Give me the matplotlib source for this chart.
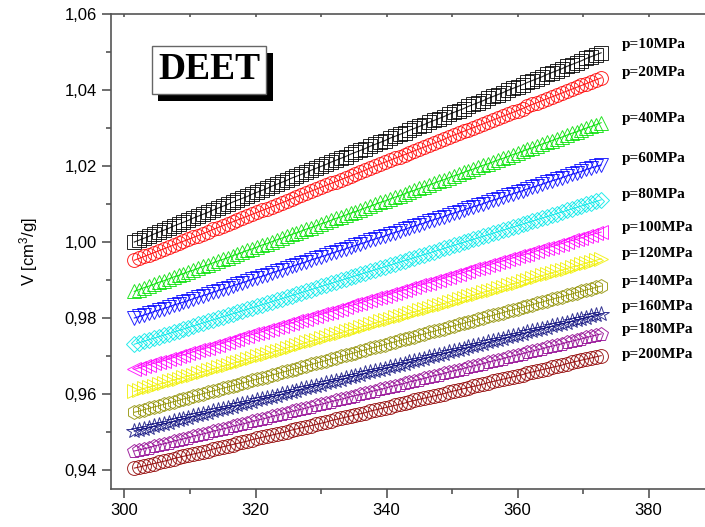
" DEET specific volume isobars "
import matplotlib
matplotlib.use("Agg")
import matplotlib.pyplot as plt
import matplotlib.patheffects as pe
from matplotlib.ticker import MultipleLocator, FuncFormatter

plt.rcParams.update({'font.family': 'Liberation Sans', 'font.size': 12,
                     'mathtext.fontset': 'custom',
                     'mathtext.rm': 'Liberation Sans',
                     'mathtext.it': 'Liberation Sans:italic'})

# temperature [K]
T = [301.5, 302.25, 303.0, 303.75, 304.5, 305.25, 306.0, 306.75,
     307.5, 308.25, 309.0, 309.75, 310.5, 311.25, 312.0, 312.75,
     313.5, 314.25, 315.0, 315.75, 316.5, 317.25, 318.0, 318.75,
     319.5, 320.25, 321.0, 321.75, 322.5, 323.25, 324.0, 324.75,
     325.5, 326.25, 327.0, 327.75, 328.5, 329.25, 330.0, 330.75,
     331.5, 332.25, 333.0, 333.75, 334.5, 335.25, 336.0, 336.75,
     337.5, 338.25, 339.0, 339.75, 340.5, 341.25, 342.0, 342.75,
     343.5, 344.25, 345.0, 345.75, 346.5, 347.25, 348.0, 348.75,
     349.5, 350.25, 351.0, 351.75, 352.5, 353.25, 354.0, 354.75,
     355.5, 356.25, 357.0, 357.75, 358.5, 359.25, 360.0, 360.75,
     361.5, 362.25, 363.0, 363.75, 364.5, 365.25, 366.0, 366.75,
     367.5, 368.25, 369.0, 369.75, 370.5, 371.25, 372.0, 372.75]

# specific volume V [cm3/g] at each pressure
V_10 = [1.0000, 1.0005, 1.0010, 1.0015, 1.0021, 1.0026, 1.0031, 1.0036,
        1.0042, 1.0047, 1.0052, 1.0057, 1.0063, 1.0068, 1.0073, 1.0078,
        1.0084, 1.0089, 1.0094, 1.0099, 1.0105, 1.0110, 1.0115, 1.0120,
        1.0126, 1.0131, 1.0136, 1.0141, 1.0147, 1.0152, 1.0157, 1.0162,
        1.0168, 1.0173, 1.0178, 1.0183, 1.0189, 1.0194, 1.0199, 1.0204,
        1.0210, 1.0215, 1.0220, 1.0225, 1.0231, 1.0236, 1.0241, 1.0246,
        1.0252, 1.0257, 1.0262, 1.0267, 1.0273, 1.0278, 1.0283, 1.0288,
        1.0294, 1.0299, 1.0304, 1.0309, 1.0315, 1.0320, 1.0325, 1.0330,
        1.0336, 1.0341, 1.0346, 1.0351, 1.0357, 1.0362, 1.0367, 1.0372,
        1.0378, 1.0383, 1.0388, 1.0393, 1.0399, 1.0404, 1.0409, 1.0414,
        1.0420, 1.0425, 1.0430, 1.0435, 1.0441, 1.0446, 1.0451, 1.0456,
        1.0462, 1.0467, 1.0472, 1.0477, 1.0483, 1.0488, 1.0493, 1.0498]
V_20 = [0.9952, 0.9957, 0.9962, 0.9967, 0.9972, 0.9977, 0.9982, 0.9987,
        0.9992, 0.9997, 1.0002, 1.0007, 1.0012, 1.0017, 1.0022, 1.0027,
        1.0033, 1.0038, 1.0043, 1.0048, 1.0053, 1.0058, 1.0063, 1.0068,
        1.0073, 1.0078, 1.0083, 1.0088, 1.0093, 1.0098, 1.0103, 1.0108,
        1.0114, 1.0119, 1.0124, 1.0129, 1.0134, 1.0139, 1.0144, 1.0149,
        1.0154, 1.0159, 1.0164, 1.0169, 1.0174, 1.0179, 1.0184, 1.0189,
        1.0195, 1.0200, 1.0205, 1.0210, 1.0215, 1.0220, 1.0225, 1.0230,
        1.0235, 1.0240, 1.0245, 1.0250, 1.0255, 1.0260, 1.0265, 1.0270,
        1.0276, 1.0281, 1.0286, 1.0291, 1.0296, 1.0301, 1.0306, 1.0311,
        1.0316, 1.0321, 1.0326, 1.0331, 1.0336, 1.0341, 1.0346, 1.0351,
        1.0357, 1.0362, 1.0367, 1.0372, 1.0377, 1.0382, 1.0387, 1.0392,
        1.0397, 1.0402, 1.0407, 1.0412, 1.0417, 1.0422, 1.0427, 1.0432]
V_40 = [0.9870, 0.9875, 0.9880, 0.9884, 0.9889, 0.9894, 0.9898, 0.9903,
        0.9908, 0.9912, 0.9917, 0.9922, 0.9926, 0.9931, 0.9936, 0.9940,
        0.9945, 0.9950, 0.9954, 0.9959, 0.9964, 0.9968, 0.9973, 0.9978,
        0.9982, 0.9987, 0.9992, 0.9996, 1.0001, 1.0006, 1.0010, 1.0015,
        1.0020, 1.0024, 1.0029, 1.0034, 1.0038, 1.0043, 1.0048, 1.0052,
        1.0057, 1.0062, 1.0066, 1.0071, 1.0076, 1.0080, 1.0085, 1.0090,
        1.0094, 1.0099, 1.0104, 1.0108, 1.0113, 1.0118, 1.0122, 1.0127,
        1.0132, 1.0136, 1.0141, 1.0146, 1.0150, 1.0155, 1.0160, 1.0164,
        1.0169, 1.0174, 1.0178, 1.0183, 1.0188, 1.0192, 1.0197, 1.0202,
        1.0206, 1.0211, 1.0216, 1.0220, 1.0225, 1.0230, 1.0234, 1.0239,
        1.0244, 1.0248, 1.0253, 1.0258, 1.0262, 1.0267, 1.0272, 1.0276,
        1.0281, 1.0286, 1.0290, 1.0295, 1.0300, 1.0304, 1.0309, 1.0314]
V_60 = [0.9800, 0.9804, 0.9808, 0.9812, 0.9817, 0.9821, 0.9825, 0.9829,
        0.9834, 0.9838, 0.9842, 0.9846, 0.9851, 0.9855, 0.9859, 0.9863,
        0.9868, 0.9872, 0.9876, 0.9880, 0.9885, 0.9889, 0.9893, 0.9897,
        0.9902, 0.9906, 0.9910, 0.9914, 0.9919, 0.9923, 0.9927, 0.9931,
        0.9936, 0.9940, 0.9944, 0.9948, 0.9953, 0.9957, 0.9961, 0.9965,
        0.9970, 0.9974, 0.9978, 0.9982, 0.9987, 0.9991, 0.9995, 0.9999,
        1.0004, 1.0008, 1.0012, 1.0016, 1.0021, 1.0025, 1.0029, 1.0033,
        1.0038, 1.0042, 1.0046, 1.0050, 1.0055, 1.0059, 1.0063, 1.0067,
        1.0072, 1.0076, 1.0080, 1.0084, 1.0089, 1.0093, 1.0097, 1.0101,
        1.0106, 1.0110, 1.0114, 1.0118, 1.0123, 1.0127, 1.0131, 1.0135,
        1.0140, 1.0144, 1.0148, 1.0152, 1.0157, 1.0161, 1.0165, 1.0169,
        1.0174, 1.0178, 1.0182, 1.0186, 1.0191, 1.0195, 1.0199, 1.0203]
V_80 = [0.9731, 0.9735, 0.9739, 0.9743, 0.9747, 0.9751, 0.9755, 0.9759,
        0.9763, 0.9767, 0.9771, 0.9775, 0.9779, 0.9783, 0.9787, 0.9791,
        0.9795, 0.9799, 0.9803, 0.9807, 0.9811, 0.9815, 0.9819, 0.9823,
        0.9827, 0.9831, 0.9835, 0.9839, 0.9843, 0.9847, 0.9851, 0.9855,
        0.9859, 0.9863, 0.9867, 0.9871, 0.9875, 0.9879, 0.9883, 0.9887,
        0.9891, 0.9895, 0.9899, 0.9903, 0.9907, 0.9911, 0.9915, 0.9919,
        0.9923, 0.9927, 0.9931, 0.9935, 0.9939, 0.9943, 0.9947, 0.9951,
        0.9955, 0.9959, 0.9963, 0.9967, 0.9971, 0.9975, 0.9979, 0.9983,
        0.9987, 0.9991, 0.9995, 0.9999, 1.0003, 1.0007, 1.0011, 1.0015,
        1.0019, 1.0023, 1.0027, 1.0031, 1.0035, 1.0039, 1.0043, 1.0047,
        1.0051, 1.0055, 1.0059, 1.0063, 1.0067, 1.0071, 1.0075, 1.0079,
        1.0083, 1.0087, 1.0091, 1.0095, 1.0099, 1.0103, 1.0107, 1.0111]
V_100 = [0.9665, 0.9669, 0.9673, 0.9677, 0.9681, 0.9684, 0.9688, 0.9692,
         0.9696, 0.9700, 0.9703, 0.9707, 0.9711, 0.9715, 0.9719, 0.9722,
         0.9726, 0.9730, 0.9734, 0.9738, 0.9741, 0.9745, 0.9749, 0.9753,
         0.9757, 0.9760, 0.9764, 0.9768, 0.9772, 0.9776, 0.9779, 0.9783,
         0.9787, 0.9791, 0.9795, 0.9798, 0.9802, 0.9806, 0.9810, 0.9814,
         0.9817, 0.9821, 0.9825, 0.9829, 0.9833, 0.9836, 0.9840, 0.9844,
         0.9848, 0.9852, 0.9855, 0.9859, 0.9863, 0.9867, 0.9871, 0.9874,
         0.9878, 0.9882, 0.9886, 0.9890, 0.9893, 0.9897, 0.9901, 0.9905,
         0.9909, 0.9912, 0.9916, 0.9920, 0.9924, 0.9928, 0.9931, 0.9935,
         0.9939, 0.9943, 0.9947, 0.9950, 0.9954, 0.9958, 0.9962, 0.9966,
         0.9969, 0.9973, 0.9977, 0.9981, 0.9985, 0.9988, 0.9992, 0.9996,
         1.0000, 1.0004, 1.0007, 1.0011, 1.0015, 1.0019, 1.0023, 1.0026]
V_120 = [0.9607, 0.9611, 0.9615, 0.9618, 0.9622, 0.9626, 0.9629, 0.9633,
         0.9637, 0.9640, 0.9644, 0.9648, 0.9651, 0.9655, 0.9659, 0.9662,
         0.9666, 0.9670, 0.9673, 0.9677, 0.9681, 0.9684, 0.9688, 0.9692,
         0.9695, 0.9699, 0.9703, 0.9706, 0.9710, 0.9714, 0.9717, 0.9721,
         0.9725, 0.9728, 0.9732, 0.9736, 0.9739, 0.9743, 0.9747, 0.9750,
         0.9754, 0.9758, 0.9761, 0.9765, 0.9769, 0.9772, 0.9776, 0.9780,
         0.9783, 0.9787, 0.9791, 0.9794, 0.9798, 0.9802, 0.9805, 0.9809,
         0.9813, 0.9816, 0.9820, 0.9824, 0.9827, 0.9831, 0.9835, 0.9838,
         0.9842, 0.9846, 0.9849, 0.9853, 0.9857, 0.9860, 0.9864, 0.9868,
         0.9871, 0.9875, 0.9879, 0.9882, 0.9886, 0.9890, 0.9893, 0.9897,
         0.9901, 0.9904, 0.9908, 0.9912, 0.9915, 0.9919, 0.9923, 0.9926,
         0.9930, 0.9934, 0.9937, 0.9941, 0.9945, 0.9948, 0.9952, 0.9956]
V_140 = [0.9552, 0.9555, 0.9559, 0.9562, 0.9566, 0.9569, 0.9573, 0.9576,
         0.9580, 0.9583, 0.9587, 0.9590, 0.9594, 0.9597, 0.9601, 0.9604,
         0.9608, 0.9611, 0.9615, 0.9618, 0.9622, 0.9625, 0.9629, 0.9632,
         0.9636, 0.9639, 0.9643, 0.9646, 0.9650, 0.9653, 0.9657, 0.9660,
         0.9664, 0.9667, 0.9671, 0.9674, 0.9678, 0.9681, 0.9685, 0.9688,
         0.9692, 0.9695, 0.9699, 0.9702, 0.9706, 0.9709, 0.9713, 0.9716,
         0.9720, 0.9723, 0.9727, 0.9730, 0.9734, 0.9737, 0.9741, 0.9744,
         0.9748, 0.9751, 0.9755, 0.9758, 0.9762, 0.9765, 0.9769, 0.9772,
         0.9776, 0.9779, 0.9783, 0.9786, 0.9790, 0.9793, 0.9797, 0.9800,
         0.9804, 0.9807, 0.9811, 0.9814, 0.9818, 0.9821, 0.9825, 0.9828,
         0.9832, 0.9835, 0.9839, 0.9842, 0.9846, 0.9849, 0.9853, 0.9856,
         0.9860, 0.9863, 0.9867, 0.9870, 0.9874, 0.9877, 0.9881, 0.9884]
V_160 = [0.9502, 0.9505, 0.9508, 0.9511, 0.9515, 0.9518, 0.9521, 0.9524,
         0.9528, 0.9531, 0.9534, 0.9537, 0.9541, 0.9544, 0.9547, 0.9550,
         0.9554, 0.9557, 0.9560, 0.9563, 0.9567, 0.9570, 0.9573, 0.9576,
         0.9580, 0.9583, 0.9586, 0.9589, 0.9593, 0.9596, 0.9599, 0.9602,
         0.9606, 0.9609, 0.9612, 0.9615, 0.9619, 0.9622, 0.9625, 0.9628,
         0.9632, 0.9635, 0.9638, 0.9641, 0.9645, 0.9648, 0.9651, 0.9654,
         0.9658, 0.9661, 0.9664, 0.9667, 0.9671, 0.9674, 0.9677, 0.9680,
         0.9684, 0.9687, 0.9690, 0.9693, 0.9697, 0.9700, 0.9703, 0.9706,
         0.9710, 0.9713, 0.9716, 0.9719, 0.9723, 0.9726, 0.9729, 0.9732,
         0.9736, 0.9739, 0.9742, 0.9745, 0.9749, 0.9752, 0.9755, 0.9758,
         0.9762, 0.9765, 0.9768, 0.9771, 0.9775, 0.9778, 0.9781, 0.9784,
         0.9788, 0.9791, 0.9794, 0.9797, 0.9801, 0.9804, 0.9807, 0.9810]
V_180 = [0.9450, 0.9453, 0.9456, 0.9459, 0.9463, 0.9466, 0.9469, 0.9472,
         0.9476, 0.9479, 0.9482, 0.9485, 0.9489, 0.9492, 0.9495, 0.9498,
         0.9502, 0.9505, 0.9508, 0.9511, 0.9515, 0.9518, 0.9521, 0.9524,
         0.9528, 0.9531, 0.9534, 0.9537, 0.9541, 0.9544, 0.9547, 0.9550,
         0.9554, 0.9557, 0.9560, 0.9563, 0.9567, 0.9570, 0.9573, 0.9576,
         0.9580, 0.9583, 0.9586, 0.9589, 0.9593, 0.9596, 0.9599, 0.9602,
         0.9606, 0.9609, 0.9612, 0.9615, 0.9619, 0.9622, 0.9625, 0.9628,
         0.9632, 0.9635, 0.9638, 0.9641, 0.9645, 0.9648, 0.9651, 0.9654,
         0.9658, 0.9661, 0.9664, 0.9667, 0.9671, 0.9674, 0.9677, 0.9680,
         0.9684, 0.9687, 0.9690, 0.9693, 0.9697, 0.9700, 0.9703, 0.9706,
         0.9710, 0.9713, 0.9716, 0.9719, 0.9723, 0.9726, 0.9729, 0.9732,
         0.9736, 0.9739, 0.9742, 0.9745, 0.9749, 0.9752, 0.9755, 0.9758]
V_200 = [0.9405, 0.9408, 0.9411, 0.9414, 0.9417, 0.9420, 0.9423, 0.9426,
         0.9430, 0.9433, 0.9436, 0.9439, 0.9442, 0.9445, 0.9448, 0.9451,
         0.9455, 0.9458, 0.9461, 0.9464, 0.9467, 0.9470, 0.9473, 0.9476,
         0.9480, 0.9483, 0.9486, 0.9489, 0.9492, 0.9495, 0.9498, 0.9501,
         0.9505, 0.9508, 0.9511, 0.9514, 0.9517, 0.9520, 0.9523, 0.9526,
         0.9530, 0.9533, 0.9536, 0.9539, 0.9542, 0.9545, 0.9548, 0.9551,
         0.9555, 0.9558, 0.9561, 0.9564, 0.9567, 0.9570, 0.9573, 0.9576,
         0.9580, 0.9583, 0.9586, 0.9589, 0.9592, 0.9595, 0.9598, 0.9601,
         0.9605, 0.9608, 0.9611, 0.9614, 0.9617, 0.9620, 0.9623, 0.9626,
         0.9630, 0.9633, 0.9636, 0.9639, 0.9642, 0.9645, 0.9648, 0.9651,
         0.9655, 0.9658, 0.9661, 0.9664, 0.9667, 0.9670, 0.9673, 0.9676,
         0.9680, 0.9683, 0.9686, 0.9689, 0.9692, 0.9695, 0.9698, 0.9701]

series = [V_10, V_20, V_40, V_60, V_80, V_100, V_120, V_140, V_160, V_180, V_200]
labels = ["p=10MPa", "p=20MPa", "p=40MPa", "p=60MPa", "p=80MPa", "p=100MPa",
          "p=120MPa", "p=140MPa", "p=160MPa", "p=180MPa", "p=200MPa"]
# where each label sits (V units)
label_y = [1.0521, 1.0445, 1.0326, 1.0221, 1.0124, 1.0039, 0.9971, 0.9897,
           0.9829, 0.9771, 0.9705]

colors = ["#000000", "#FF0000", "#00E000", "#0000FF", "#00E8E8", "#FF00FF",
          "#F0F000", "#909000", "#101080", "#900090", "#900000"]
markers = ["s", "o", "^", "v", "D", "<", ">", "h", "*", "p", "o"]
sizes = [9.5, 10.0, 10.5, 10.5, 8.0, 10.5, 10.5, 10.0, 11.5, 10.0, 10.0]

fig = plt.figure(figsize=(7.05, 5.27), dpi=100)
ax = fig.add_axes([0.1574, 0.0721, 0.8426, 0.9013])

for v, c, m, s in zip(series, colors, markers, sizes):
    ax.plot(T, v, color=c, lw=0.8, marker=m, ms=s, mfc="none", mec=c,
            mew=0.7, alpha=0.85)

for lab, yy in zip(labels, label_y):
    ax.text(375.9, yy, lab, family="Liberation Serif", weight="bold",
            fontsize=11, va="center", ha="left")

# DEET box with a black drop shadow
deet = ax.text(312.9, 1.0453, "DEET", family="Liberation Serif",
               weight="bold", fontsize=27, ha="center", va="center",
               bbox=dict(boxstyle="square,pad=0.17", fc="white",
                         ec="#666666", lw=1))
deet.get_bbox_patch().set_path_effects(
    [pe.SimplePatchShadow(offset=(5, -5), shadow_rgbFace="black", alpha=1),
     pe.Normal()])

ax.set_xlim(297.94, 388.6)
ax.set_ylim(0.935, 1.06)
ax.xaxis.set_major_locator(MultipleLocator(20))
ax.xaxis.set_minor_locator(MultipleLocator(10))
ax.yaxis.set_major_locator(MultipleLocator(0.02))
ax.yaxis.set_minor_locator(MultipleLocator(0.01))
ax.yaxis.set_major_formatter(FuncFormatter(lambda v, p: ("%.2f" % v).replace(".", ",")))

ax.spines["right"].set_visible(False)
for sp in ["left", "bottom", "top"]:
    ax.spines[sp].set_color("#555555")
    ax.spines[sp].set_linewidth(1.2)
ax.tick_params(which="major", direction="out", length=6.5, width=1.2,
               color="#555555", pad=3.5, labelsize=12)
ax.tick_params(which="minor", direction="out", length=3.5, width=1.2,
               color="#555555")
ax.tick_params(which="both", top=False, right=False)
ax.set_ylabel("V [cm$^3$/g]", fontsize=12)
ax.yaxis.set_label_coords(-0.12, 0.5)

# small inward ticks along the top frame
secx = ax.secondary_xaxis("top")
secx.xaxis.set_major_locator(MultipleLocator(10))
secx.tick_params(direction="in", length=2, width=1.2, color="#555555",
                 labeltop=False)
secx.spines["top"].set_visible(False)

fig.savefig("out.png", dpi=100)
